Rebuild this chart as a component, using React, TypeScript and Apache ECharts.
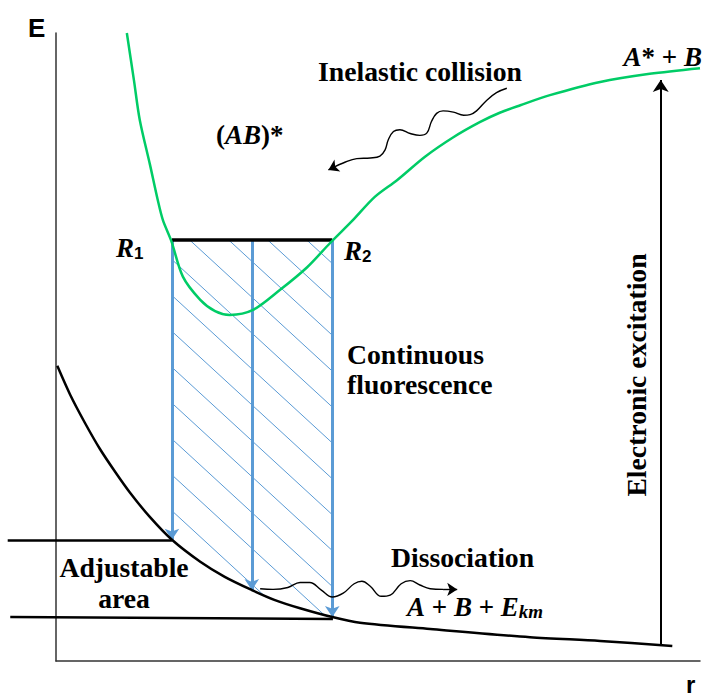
import React, { useEffect, useRef } from "react";
import * as echarts from "echarts";

// Excited-state (AB)* potential curve: r, E
const excitedR = [11.0, 12.1, 13.0, 14.6, 15.8, 16.6, 17.9, 19.7, 22.4, 24.7, 27.0, 30.6, 34.8, 39.0, 42.6, 46.1, 49.5, 53.0, 57.3, 61.7, 65.8, 68.9, 72.1, 76.7, 84.5, 92.2, 100];
const excitedE = [100, 92.5, 86.2, 79.0, 73.4, 70.2, 66.9, 61.2, 57.5, 55.7, 55.1, 55.9, 59.1, 62.7, 66.6, 70.2, 73.9, 76.6, 80.3, 83.4, 85.8, 87.3, 88.5, 90.1, 92.2, 93.5, 94.4];

// Ground-state (repulsive) curve: r, E
const groundR = [0.2, 2.2, 4.5, 6.8, 9.2, 11.5, 14.6, 18.0, 22.4, 26.2, 30.4, 34.0, 37.9, 42.9, 47.2, 58.1, 73.6, 84.5, 95.7];
const groundE = [47.0, 42.4, 37.9, 33.8, 30.1, 26.8, 22.9, 19.3, 15.8, 13.4, 11.3, 9.7, 8.4, 7.0, 6.1, 5.1, 3.8, 3.2, 2.4];

// R1–R2 level and fluorescence transitions
const levelE = 67.0;
const levelR = [18.0, 42.9];
const fluorR = [18.0, 30.4, 42.9];
const fluorEndE = [19.3, 11.3, 7.0];

// "Adjustable area" bounds
const adjustTopR = [-7.5, 18.0];
const adjustTopE = [19.3, 19.3];
const adjustBotR = [-7.1, 43.0];
const adjustBotE = [7.0, 6.7];

// Electronic excitation arrow
const excitationR = 93.9;
const excitationE = [2.4, 92.5];

// Wavy arrows
const inelasticR = [70.0, 68.4, 66.9, 65.3, 64.3, 63.3, 61.7, 60.1, 59.1, 58.3, 57.6, 56.5, 55.0, 53.4, 52.4, 51.6, 51.1, 50.3, 48.8, 46.7, 44.6, 43.1, 42.3];
const inelasticE = [91.2, 90.5, 89.3, 87.6, 87.0, 86.9, 87.4, 87.6, 87.2, 85.9, 84.1, 83.7, 84.0, 84.6, 84.3, 83.0, 81.4, 80.4, 80.1, 80.0, 79.3, 78.6, 78.2];
const dissocR = [31.7, 33.7, 36.0, 37.9, 39.4, 41.2, 42.9, 44.6, 46.3, 47.5, 48.8, 50.5, 51.9, 53.6, 55.0, 56.5, 58.1, 60.1, 62.3];
const dissocE = [11.5, 11.4, 11.7, 12.5, 12.5, 11.3, 10.2, 10.8, 12.3, 12.7, 11.9, 10.3, 10.5, 12.3, 12.8, 12.1, 11.5, 11.4, 11.4];

// Hatch pattern parameters (data units)
const hatchSlope = 0.943;
const hatchSpacing = 6.06;
const hatchAnchorR = 20.8;

const BLUE = "#5B9BD5";
const GREEN = "#00CC66";
const serif = "'Liberation Serif', 'Times New Roman', serif";
const sans = "'Liberation Sans', Arial, sans-serif";
const FS = 27.7;

const zip = (a: number[], b: number[]) => a.map((v, i) => [v, b[i]]);

function groundAt(r: number) {
  if (r <= groundR[0]) return groundE[0];
  for (let i = 1; i < groundR.length; i++) {
    if (r <= groundR[i]) {
      const t = (r - groundR[i - 1]) / (groundR[i] - groundR[i - 1]);
      return groundE[i - 1] + t * (groundE[i] - groundE[i - 1]);
    }
  }
  return groundE[groundE.length - 1];
}

function hatchSegments() {
  const segs: any[] = [];
  const [left, right] = levelR;
  for (let k = -8; k <= 16; k++) {
    const r0 = hatchAnchorR + hatchSpacing * k;
    if (r0 > right) continue;
    let sr: number, se: number;
    if (r0 >= left) {
      sr = r0;
      se = levelE;
    } else {
      sr = left;
      se = levelE - hatchSlope * (left - r0);
    }
    if (se <= groundAt(sr)) continue;
    let er = right;
    let ee = levelE - hatchSlope * (right - r0);
    for (let r = sr; r <= right; r += 0.02) {
      const e = levelE - hatchSlope * (r - r0);
      if (e <= groundAt(r)) {
        er = r;
        ee = e;
        break;
      }
    }
    segs.push({ coords: [[sr, se], [er, ee]] });
  }
  return segs;
}

function txt(text: string, x: number, y: number, o: any = {}) {
  return {
    type: "text",
    x,
    y,
    rotation: o.rotation || 0,
    silent: true,
    style: {
      text,
      fontSize: o.size || FS,
      fontWeight: o.weight || "bold",
      fontStyle: o.style || "normal",
      fontFamily: o.family || serif,
      fill: "#000",
      align: o.align || "left",
      textAlign: o.align || "left",
      verticalAlign: "middle",
      textVerticalAlign: "middle",
      rich: o.rich,
    },
  };
}

export default function App() {
  const ref = useRef<HTMLDivElement>(null);
  useEffect(() => {
    document.body.style.margin = "0";
    const chart = echarts.init(ref.current!, null, { renderer: "svg" });
    const lineStyleLines = (color: string, width: number) => ({ color, width, opacity: 1, curveness: 0 });
    const italicRich = (size: number) => ({
      i: { fontSize: size, fontWeight: "bold", fontStyle: "italic", fontFamily: serif, fill: "#000" },
      b: { fontSize: size, fontWeight: "bold", fontFamily: serif, fill: "#000" },
    });
    const option: any = {
      animation: false,
      grid: { left: 56, right: 6, top: 33, bottom: 36 },
      xAxis: {
        type: "value",
        min: 0,
        max: 100,
        axisLine: { show: true, lineStyle: { color: "#333", width: 1.5 } },
        axisTick: { show: false },
        axisLabel: { show: false },
        splitLine: { show: false },
      },
      yAxis: {
        type: "value",
        min: 0,
        max: 100,
        axisLine: { show: true, lineStyle: { color: "#333", width: 1.5 } },
        axisTick: { show: false },
        axisLabel: { show: false },
        splitLine: { show: false },
      },
      series: [
        {
          type: "lines",
          coordinateSystem: "cartesian2d",
          clip: false,
          silent: true,
          symbol: "none",
          lineStyle: lineStyleLines(BLUE, 1),
          data: hatchSegments(),
        },
        {
          type: "lines",
          coordinateSystem: "cartesian2d",
          clip: false,
          silent: true,
          symbol: ["none", "arrow"],
          symbolSize: 11,
          lineStyle: lineStyleLines(BLUE, 3),
          itemStyle: { color: BLUE },
          data: fluorR.map((r, i) => ({ coords: [[r, levelE], [r, fluorEndE[i]]] })),
        },
        {
          type: "line",
          clip: false,
          silent: true,
          showSymbol: false,
          smooth: 0.3,
          lineStyle: { color: GREEN, width: 2.5 },
          data: zip(excitedR, excitedE),
        },
        {
          type: "line",
          clip: false,
          silent: true,
          showSymbol: false,
          smooth: 0.3,
          lineStyle: { color: "#000", width: 2.5 },
          data: zip(groundR, groundE),
        },
        {
          type: "lines",
          coordinateSystem: "cartesian2d",
          clip: false,
          silent: true,
          symbol: "none",
          lineStyle: lineStyleLines("#000", 2.5),
          data: [
            { coords: zip(adjustTopR, adjustTopE) },
            { coords: zip(adjustBotR, adjustBotE) },
          ],
        },
        {
          type: "lines",
          coordinateSystem: "cartesian2d",
          clip: false,
          silent: true,
          symbol: "none",
          lineStyle: lineStyleLines("#000", 3.5),
          data: [{ coords: [[levelR[0], levelE], [levelR[1], levelE]] }],
        },
        {
          type: "lines",
          coordinateSystem: "cartesian2d",
          clip: false,
          silent: true,
          symbol: ["none", "arrow"],
          symbolSize: 12,
          lineStyle: lineStyleLines("#000", 2),
          itemStyle: { color: "#000" },
          data: [{ coords: [[excitationR, excitationE[0]], [excitationR, excitationE[1]]] }],
        },
        {
          type: "line",
          clip: false,
          silent: true,
          showSymbol: false,
          smooth: 0.4,
          lineStyle: { color: "#000", width: 1.4 },
          data: zip(inelasticR, inelasticE).slice(0, -1),
        },
        {
          type: "line",
          clip: false,
          silent: true,
          showSymbol: false,
          smooth: 0.4,
          lineStyle: { color: "#000", width: 1.4 },
          data: zip(dissocR, dissocE).slice(0, -1),
        },
        {
          type: "lines",
          coordinateSystem: "cartesian2d",
          clip: false,
          silent: true,
          symbol: ["none", "arrow"],
          symbolSize: 10,
          lineStyle: lineStyleLines("#000", 1.4),
          itemStyle: { color: "#000" },
          data: [
            { coords: zip(inelasticR, inelasticE).slice(-2) },
            { coords: zip(dissocR, dissocE).slice(-2) },
          ],
        },
      ],
      graphic: [
        txt("E", 28, 28, { family: sans, size: 26 }),
        txt("r", 686, 684, { family: sans, size: 24 }),
        txt("Inelastic collision", 420, 71, { align: "center" }),
        txt("{b|(}{i|AB}{b|)*}", 216, 135, { size: 27, rich: italicRich(27) }),
        txt("{i|R}{s|1}", 116, 248, {
          size: 27,
          rich: {
            ...italicRich(27),
            s: { fontSize: 17, fontWeight: "bold", fontFamily: sans, verticalAlign: "bottom", fill: "#000" },
          },
        }),
        txt("{i|R}{s|2}", 344, 251, {
          size: 27,
          rich: {
            ...italicRich(27),
            s: { fontSize: 17, fontWeight: "bold", fontFamily: sans, verticalAlign: "bottom", fill: "#000" },
          },
        }),
        txt("{i|A}{b|* + }{i|B}", 702, 57, { size: 27, align: "right", rich: italicRich(27) }),
        txt("Continuous", 347, 354),
        txt("fluorescence", 347, 384),
        txt("Adjustable", 124, 567, { align: "center" }),
        txt("area", 124, 598, { align: "center" }),
        txt("Dissociation", 391, 557),
        txt("{i|A}{b| + }{i|B}{b| + }{i|E}{s|km}", 407, 607, {
          size: 27,
          rich: {
            ...italicRich(27),
            s: { fontSize: 19, fontWeight: "bold", fontStyle: "italic", fontFamily: serif, verticalAlign: "bottom", fill: "#000" },
          },
        }),
        txt("Electronic excitation", 636, 375, { align: "center", rotation: Math.PI / 2 }),
      ],
    };
    chart.setOption(option);
    return () => chart.dispose();
  }, []);
  return <div ref={ref} style={{ width: 706, height: 697 }} />;
}
